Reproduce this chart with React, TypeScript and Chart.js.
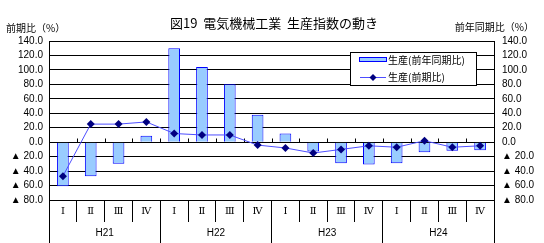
import { useEffect, useRef } from "react";
import { Chart, registerables } from "chart.js";
Chart.register(...registerables);

const quarters = ["Ⅰ", "Ⅱ", "Ⅲ", "Ⅳ", "Ⅰ", "Ⅱ", "Ⅲ", "Ⅳ", "Ⅰ", "Ⅱ", "Ⅲ", "Ⅳ", "Ⅰ", "Ⅱ", "Ⅲ", "Ⅳ"];
const years = ["H21", "H22", "H23", "H24"];
const yoyValues = [-61, -47, -30, 9, 130, 104, 80, 38, 12, -13, -29, -31, -29, -14, -12, -11];
const qoqValues = [-47, 25, 25, 28, 12, 10, 10, -4, -8, -15, -10, -5, -7, 2, -7, -5];
const seriesLabels = ["生産(前年同期比)", "生産(前期比)"];
const yMin = -80;
const yMax = 140;
const yStep = 20;

const BAR_FILL = "#99CCFF";
const BAR_BORDER = "#0000FF";
const LINE_COLOR = "#4D4DFF";
const POINT_COLOR = "#000080";
const TICK_FONT = { family: "'Liberation Sans', 'DejaVu Sans', sans-serif", size: 10 };
const CJK = "'Noto Sans CJK JP', sans-serif";

const fmt = (v: number) => (v < 0 ? "▲ " + Math.abs(v).toFixed(1) : v.toFixed(1));

const zeroTicksPlugin = {
  id: "zeroTicks",
  beforeDatasetsDraw(chart: any) {
    const { ctx, scales } = chart;
    const x = scales.x;
    const y0 = Math.round(scales.y.getPixelForValue(0)) + 0.5;
    ctx.save();
    ctx.strokeStyle = "#000";
    ctx.lineWidth = 1;
    for (let i = 1; i < quarters.length; i++) {
      const px = Math.round((x.getPixelForValue(i - 1) + x.getPixelForValue(i)) / 2) + 0.5;
      ctx.beginPath();
      ctx.moveTo(px, y0 - 4);
      ctx.lineTo(px, y0);
      ctx.stroke();
    }
    ctx.restore();
  },
};

const boxLegendPlugin = {
  id: "boxLegend",
  afterDatasetsDraw(chart: any) {
    const { ctx, chartArea } = chart;
    const x0 = Math.round(chartArea.right - 144);
    const y0 = Math.round(chartArea.top + 11);
    const w = 126;
    const h = 33;
    ctx.save();
    ctx.fillStyle = "#fff";
    ctx.fillRect(x0, y0, w, h);
    ctx.strokeStyle = "#000";
    ctx.lineWidth = 1;
    ctx.strokeRect(x0 + 0.5, y0 + 0.5, w, h);
    // bar swatch
    ctx.fillStyle = BAR_FILL;
    ctx.fillRect(x0 + 10, y0 + 6, 26, 3);
    ctx.strokeStyle = BAR_BORDER;
    ctx.strokeRect(x0 + 9.5, y0 + 5.5, 27, 4);
    // line swatch
    const ly = y0 + 25.5;
    ctx.strokeStyle = LINE_COLOR;
    ctx.beginPath();
    ctx.moveTo(x0 + 10, ly);
    ctx.lineTo(x0 + 36, ly);
    ctx.stroke();
    ctx.fillStyle = POINT_COLOR;
    ctx.beginPath();
    const cx = x0 + 23;
    ctx.moveTo(cx, ly - 3.5);
    ctx.lineTo(cx + 3.5, ly);
    ctx.lineTo(cx, ly + 3.5);
    ctx.lineTo(cx - 3.5, ly);
    ctx.closePath();
    ctx.fill();
    // text
    ctx.fillStyle = "#000";
    ctx.font = "10px " + CJK;
    ctx.textBaseline = "middle";
    ctx.textAlign = "left";
    ctx.fillText(seriesLabels[0], x0 + 38, y0 + 8);
    ctx.fillText(seriesLabels[1], x0 + 38, y0 + 25);
    ctx.restore();
  },
};

export default function App() {
  const ref = useRef<HTMLCanvasElement>(null);
  useEffect(() => {
    if (!ref.current) return;
    const chart = new Chart(ref.current, {
      type: "bar",
      data: {
        labels: quarters,
        datasets: [
          {
            type: "bar",
            label: seriesLabels[0],
            data: yoyValues,
            backgroundColor: BAR_FILL,
            borderColor: BAR_BORDER,
            borderWidth: 1,
            barPercentage: 0.42,
            categoryPercentage: 1,
            yAxisID: "y1",
            order: 2,
          },
          {
            type: "line",
            label: seriesLabels[1],
            data: qoqValues,
            borderColor: LINE_COLOR,
            borderWidth: 1,
            pointStyle: "rectRot",
            pointRadius: 4,
            pointBackgroundColor: POINT_COLOR,
            pointBorderColor: POINT_COLOR,
            pointBorderWidth: 0,
            yAxisID: "y",
            order: 1,
          } as any,
        ],
      },
      options: {
        animation: false,
        responsive: true,
        maintainAspectRatio: false,
        layout: { padding: { top: 41, left: 0, right: 0, bottom: 0 } },
        plugins: { legend: { display: false }, tooltip: { enabled: false }, title: { display: false } },
        scales: {
          x: {
            type: "category",
            position: "bottom",
            offset: true,
            grid: { offset: true, drawOnChartArea: false, drawTicks: true, tickLength: 22, color: "#000" },
            border: { display: true, color: "#000" },
            ticks: {
              color: "#000",
              padding: -17,
              maxRotation: 0,
              autoSkip: false,
              font: { family: "'DejaVu Serif', serif", size: 10 },
            },
            afterFit: (s: any) => {
              s.height = 22;
            },
          },
          x2: {
            type: "category",
            labels: years,
            position: "bottom",
            offset: true,
            grid: { offset: true, drawOnChartArea: false, drawTicks: true, tickLength: 21, color: "#000" },
            border: { display: false },
            ticks: { color: "#000", padding: -16, maxRotation: 0, autoSkip: false, font: TICK_FONT },
            afterFit: (s: any) => {
              s.height = 21;
            },
          } as any,
          y: {
            position: "left",
            min: yMin,
            max: yMax,
            grid: { color: "#000", drawTicks: false },
            border: { display: true, color: "#000" },
            ticks: {
              stepSize: yStep,
              autoSkip: false,
              color: "#000",
              padding: 6,
              font: TICK_FONT,
              callback: (v: any) => fmt(Number(v)),
            },
            afterFit: (s: any) => {
              s.width = 49;
            },
          },
          y1: {
            position: "right",
            min: yMin,
            max: yMax,
            grid: { drawOnChartArea: false, drawTicks: false },
            border: { display: true, color: "#000" },
            ticks: {
              stepSize: yStep,
              autoSkip: false,
              color: "#000",
              padding: 8,
              font: TICK_FONT,
              callback: (v: any) => fmt(Number(v)),
            },
            afterFit: (s: any) => {
              s.width = 50;
            },
          },
        },
      },
      plugins: [zeroTicksPlugin, boxLegendPlugin],
    });
    return () => chart.destroy();
  }, []);

  return (
    <div style={{ position: "fixed", left: 0, top: 0, width: 544, height: 243, background: "#fff" }}>
      <canvas ref={ref} />
      <div
        style={{
          position: "absolute",
          left: 170,
          top: 16,
          fontFamily: CJK,
          fontSize: 13,
          lineHeight: "13px",
          whiteSpace: "pre",
          color: "#000",
        }}
      >
        {"図19  電気機械工業  生産指数の動き"}
      </div>
      <div
        style={{
          position: "absolute",
          left: 6,
          top: 23,
          fontFamily: CJK,
          fontSize: 10,
          lineHeight: "10px",
          whiteSpace: "pre",
          color: "#000",
        }}
      >
        {"前期比（%）"}
      </div>
      <div
        style={{
          position: "absolute",
          right: 10,
          top: 22,
          fontFamily: CJK,
          fontSize: 10,
          lineHeight: "10px",
          whiteSpace: "pre",
          color: "#000",
        }}
      >
        {"前年同期比（%）"}
      </div>
    </div>
  );
}
